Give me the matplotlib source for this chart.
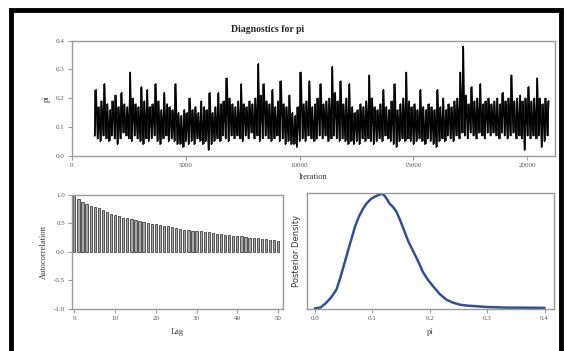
import numpy as np
import matplotlib
matplotlib.use("Agg")
import matplotlib.pyplot as plt
from matplotlib.patches import Rectangle

# Trace: per 125-iteration bin, low and high excursion of the chain
trace_start = 1000
trace_step = 125
trace_lo = [
    0.07, 0.06, 0.05, 0.07, 0.06, 0.05, 0.07, 0.06, 0.04, 0.06,
    0.08, 0.07, 0.06, 0.05, 0.07, 0.06, 0.05, 0.04, 0.06, 0.05,
    0.06, 0.07, 0.05, 0.04, 0.06, 0.07, 0.05, 0.06, 0.05, 0.04,
    0.04, 0.03, 0.05, 0.04, 0.05, 0.04, 0.06, 0.05, 0.04, 0.05,
    0.02, 0.04, 0.05, 0.06, 0.05, 0.07, 0.06, 0.05, 0.07, 0.06,
    0.07, 0.06, 0.05, 0.07, 0.06, 0.08, 0.06, 0.07, 0.05, 0.06,
    0.07, 0.06, 0.05, 0.06, 0.07, 0.05, 0.06, 0.04, 0.05, 0.04,
    0.04, 0.03, 0.05, 0.06, 0.05, 0.07, 0.06, 0.05, 0.06, 0.07,
    0.06, 0.07, 0.05, 0.06, 0.07, 0.06, 0.05, 0.06, 0.05, 0.04,
    0.05, 0.04, 0.05, 0.04, 0.06, 0.05, 0.06, 0.05, 0.04, 0.05,
    0.06, 0.05, 0.07, 0.06, 0.05, 0.04, 0.03, 0.05, 0.06, 0.05,
    0.06, 0.05, 0.04, 0.05, 0.06, 0.05, 0.04, 0.06, 0.05, 0.04,
    0.03, 0.05, 0.06, 0.05, 0.07, 0.06, 0.05, 0.07, 0.06, 0.08,
    0.07, 0.06, 0.08, 0.07, 0.06, 0.08, 0.07, 0.06, 0.08, 0.07,
    0.08, 0.07, 0.06, 0.08, 0.07, 0.06, 0.07, 0.08, 0.06, 0.07,
    0.06, 0.02, 0.07, 0.06, 0.07, 0.06, 0.07, 0.03, 0.05, 0.07,
]
trace_hi = [
    0.23, 0.17, 0.19, 0.25, 0.18, 0.16, 0.19, 0.21, 0.17, 0.22,
    0.18, 0.17, 0.29, 0.20, 0.18, 0.17, 0.24, 0.19, 0.23, 0.17,
    0.18, 0.25, 0.19, 0.16, 0.22, 0.18, 0.17, 0.16, 0.25, 0.15,
    0.14, 0.16, 0.15, 0.20, 0.16, 0.17, 0.15, 0.19, 0.17, 0.16,
    0.22, 0.15, 0.17, 0.22, 0.18, 0.19, 0.27, 0.20, 0.18, 0.17,
    0.19, 0.25, 0.18, 0.17, 0.19, 0.18, 0.20, 0.32, 0.21, 0.25,
    0.19, 0.18, 0.23, 0.17, 0.19, 0.26, 0.18, 0.17, 0.21, 0.15,
    0.14, 0.17, 0.29, 0.18, 0.19, 0.26, 0.17, 0.18, 0.20, 0.25,
    0.18, 0.19, 0.20, 0.31, 0.22, 0.19, 0.26, 0.18, 0.20, 0.25,
    0.17, 0.15, 0.16, 0.18, 0.17, 0.19, 0.28, 0.20, 0.17, 0.16,
    0.18, 0.23, 0.17, 0.16, 0.19, 0.25, 0.16, 0.18, 0.20, 0.29,
    0.19, 0.17, 0.18, 0.16, 0.23, 0.17, 0.16, 0.18, 0.17, 0.16,
    0.23, 0.17, 0.20, 0.16, 0.18, 0.17, 0.19, 0.20, 0.29, 0.38,
    0.21, 0.18, 0.24, 0.19, 0.20, 0.25, 0.18, 0.19, 0.20, 0.18,
    0.19, 0.20, 0.18, 0.22, 0.19, 0.20, 0.28, 0.19, 0.20, 0.21,
    0.19, 0.20, 0.24, 0.19, 0.20, 0.27, 0.20, 0.18, 0.20, 0.19,
]

# Autocorrelation by lag
lags = list(range(51))
acf = [
    1.00, 0.93, 0.88, 0.84, 0.81, 0.78, 0.76, 0.73, 0.70, 0.67,
    0.64, 0.62, 0.60, 0.59, 0.58, 0.56, 0.54, 0.52, 0.50, 0.49,
    0.48, 0.47, 0.46, 0.45, 0.43, 0.42, 0.40, 0.39, 0.38, 0.37,
    0.37, 0.36, 0.35, 0.34, 0.33, 0.32, 0.31, 0.30, 0.29, 0.28,
    0.28, 0.27, 0.26, 0.25, 0.25, 0.24, 0.23, 0.22, 0.21, 0.20,
    0.19,
]

# Posterior density (relative height)
dens_x = [0.000, 0.010, 0.017, 0.025, 0.030, 0.038, 0.045, 0.052, 0.060, 0.070,
          0.077, 0.084, 0.090, 0.098, 0.105, 0.112, 0.118, 0.124, 0.130, 0.136,
          0.142, 0.149, 0.156, 0.163, 0.171, 0.180, 0.188, 0.197, 0.206, 0.217,
          0.229, 0.240, 0.252, 0.265, 0.281, 0.300, 0.333, 0.370, 0.400]
dens_y = [0.005, 0.012, 0.040, 0.080, 0.110, 0.170, 0.280, 0.400, 0.540, 0.710,
          0.800, 0.865, 0.910, 0.950, 0.970, 0.985, 0.995, 0.960, 0.910, 0.880,
          0.840, 0.760, 0.670, 0.580, 0.500, 0.410, 0.320, 0.250, 0.195, 0.130,
          0.080, 0.055, 0.037, 0.028, 0.023, 0.016, 0.011, 0.010, 0.009]

serif = "Liberation Serif"
spine_col = "#9a9a9a"
tick_col = "#555555"

fig = plt.figure(figsize=(5.66, 3.51), dpi=100)
fig.patch.set_facecolor("white")


def style(ax):
    for s in ax.spines.values():
        s.set_color(spine_col)
        s.set_linewidth(1.0)
    ax.tick_params(direction="out", length=3, width=0.8, color=spine_col,
                   labelsize=5, labelcolor=tick_col, pad=2)
    for lab in ax.get_xticklabels() + ax.get_yticklabels():
        lab.set_family(serif)


# Trace plot
ax1 = fig.add_axes([0.127, 0.556, 0.853, 0.328])
n = len(trace_lo)
bin_x = trace_start + trace_step * np.arange(n)
xs = np.empty(2 * n)
ys = np.empty(2 * n)
xs[0::2] = bin_x
xs[1::2] = bin_x + trace_step / 2
ys[0::2] = trace_lo
ys[1::2] = trace_hi
ax1.vlines(bin_x + trace_step / 4, trace_lo, trace_hi, color="black", lw=1.1)
ax1.plot(xs, ys, color="black", lw=1.1)
ax1.set_xlim(0, 21200)
ax1.set_ylim(0, 0.4)
ax1.set_xticks([0, 5000, 10000, 15000, 20000])
ax1.set_yticks([0.0, 0.1, 0.2, 0.3, 0.4])
ax1.set_yticklabels(["0.0", "0.1", "0.2", "0.3", "0.4"])
style(ax1)
ax1.set_ylabel("pi", family=serif, fontsize=6, color="#333333", labelpad=4)
ax1.set_xlabel("Iteration", family=serif, fontsize=6, color="#333333", labelpad=4)
fig.text(268 / 566, 1 - 30 / 351, "Diagnostics for pi", family=serif,
         fontsize=7, fontweight="bold", ha="center", va="center", color="#222222")

# Autocorrelation
ax2 = fig.add_axes([0.127, 0.120, 0.373, 0.325])
ax2.bar(lags, acf, width=0.55, color="#a8a8a8", edgecolor="#222222", linewidth=0.5)
ax2.set_xlim(-0.6, 51.2)
ax2.set_ylim(-1.0, 1.0)
ax2.set_xticks([0, 10, 20, 30, 40, 50])
ax2.set_yticks([-1.0, -0.5, 0.0, 0.5, 1.0])
ax2.set_yticklabels(["-1.0", "-0.5", "0.0", "0.5", "1.0"])
style(ax2)
ax2.set_ylabel("Autocorrelation", family=serif, fontsize=6, color="#333333", labelpad=4)
ax2.set_xlabel("Lag", family=serif, fontsize=6, color="#333333", labelpad=5)

# Posterior density
ax3 = fig.add_axes([0.542, 0.120, 0.436, 0.330])
ax3.plot(dens_x, dens_y, color="#34508a", lw=1.8, solid_capstyle="round")
ax3.set_xlim(-0.014, 0.4156)
ax3.set_ylim(0, 1.0)
ax3.set_xticks([0.0, 0.1, 0.2, 0.3, 0.4])
ax3.set_xticklabels(["0.0", "0.1", "0.2", "0.3", "0.4"])
ax3.set_yticks([])
style(ax3)
ax3.set_ylabel("Posterior Density", fontsize=6, color="#333333", labelpad=4)
ax3.set_xlabel("pi", family=serif, fontsize=6, color="#333333", labelpad=5)

# Black frame around the output
fig.patches.append(Rectangle((11 / 566, -0.05), 550 / 566, 1.0215, transform=fig.transFigure,
                             fill=False, edgecolor="black", linewidth=3.5))

fig.savefig("out.png", dpi=100)
